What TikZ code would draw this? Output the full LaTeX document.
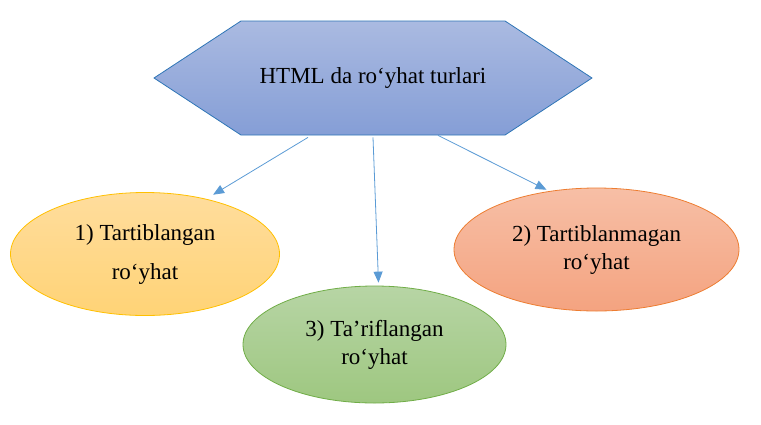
\documentclass[tikz,border=0pt]{standalone}
\usepackage{fontspec}
\setmainfont{Liberation Serif}
\usetikzlibrary{shapes.geometric,shapes.symbols,arrows.meta}
\definecolor{headline}{RGB}{46,117,182}
\definecolor{headtop}{RGB}{170,186,225}
\definecolor{headbot}{RGB}{133,158,214}
\definecolor{linkblue}{RGB}{91,155,213}
\definecolor{goldline}{RGB}{255,192,0}
\definecolor{goldtop}{RGB}{255,221,157}
\definecolor{goldbot}{RGB}{255,211,118}
\definecolor{orangeline}{RGB}{237,125,49}
\definecolor{orangetop}{RGB}{247,191,166}
\definecolor{orangebot}{RGB}{244,163,128}
\definecolor{greenline}{RGB}{112,173,71}
\definecolor{greentop}{RGB}{183,213,165}
\definecolor{greenbot}{RGB}{158,199,128}

\begin{document}
\begin{tikzpicture}[x=1pt, y=-1pt,
    every node/.style={font=\fontsize{23}{28}\selectfont, align=center, inner sep=0pt},
    oval/.style={ellipse, line width=0.8pt},
    link/.style={draw=linkblue, line width=0.8pt, -{Triangle[length=11pt, width=9pt]}}]
    \useasboundingbox (0, 0) rectangle (761, 424);
    \node [signal, signal to=east and west, signal pointer angle=66.5, minimum width=438pt, minimum height=114pt,
           draw=headline, line width=0.8pt, top color=headtop, bottom color=headbot] (head) at (373, 78) {HTML da ro‘yhat turlari};
    \node [oval, draw=goldline, top color=goldtop, bottom color=goldbot, minimum width=269pt, minimum height=123pt]
          (ordered) at (145, 254) {1) Tartiblangan\\[11pt]ro‘yhat};
    \node [oval, draw=orangeline, top color=orangetop, bottom color=orangebot, minimum width=285pt, minimum height=123pt]
          (unordered) at (596.5, 249.5) {2) Tartiblanmagan\\ro‘yhat};
    \node [oval, draw=greenline, top color=greentop, bottom color=greenbot, minimum width=263pt, minimum height=117pt]
          (described) at (374.5, 344.5) {3) Ta’riflangan\\ro‘yhat};

    \draw [link, shorten >=8pt] ([xshift=-65pt, yshift=-2pt]head.south) -- (ordered.42);
    \draw [link, shorten >=3pt] ([yshift=-2pt]head.south) -- (described.86);
    \draw [link, shorten >=3pt] ([xshift=65pt]head.south) -- (unordered.129);
\end{tikzpicture}
\end{document}
